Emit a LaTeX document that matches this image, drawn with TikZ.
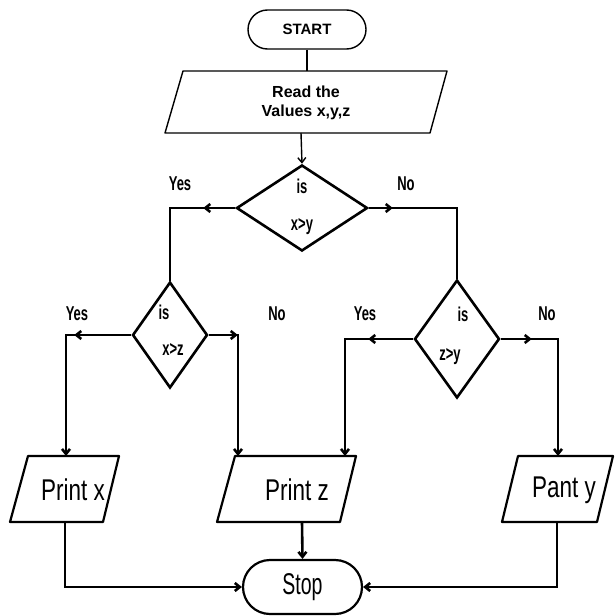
\documentclass[tikz,border=0pt]{standalone}
\usepackage{fontspec}
\setmainfont{Liberation Sans}
\newfontfamily\narrowfont[FakeStretch=0.75]{Liberation Sans}
\newfontfamily\narrowerfont[FakeStretch=0.65]{Liberation Sans}
\usetikzlibrary{shapes.geometric,shapes.misc,arrows.meta,decorations.markings}
\tikzset{
  thinline/.style={line width=1.4pt},
  thickline/.style={line width=2.6pt},
  terminal/.style={draw, rounded rectangle, inner sep=0pt},
  decision/.style={draw, diamond, inner sep=0pt, line width=2.6pt},
  iobox/.style={line width=2.2pt, line join=round},
  lbl/.style={font=\narrowerfont\bfseries\fontsize{20}{22}\selectfont, inner sep=0pt, text height=1.4ex, text depth=0.2ex},
  ptext/.style={font=\narrowfont\fontsize{30}{32}\selectfont, inner sep=0pt},
  tip/.style={-{Straight Barb[length=5pt,width=8pt]}},
  midtip/.style={postaction={decorate}, decoration={markings, mark=at position #1 with {\arrow{Straight Barb[length=5pt,width=8pt]}}}},
}
\begin{document}
\begin{tikzpicture}[x=1pt,y=-1pt]
\useasboundingbox (0,0) rectangle (615,616);
\fill[white] (0,0) rectangle (615,616);

% START
\node[terminal, thinline, minimum width=118, minimum height=39,
      font=\bfseries\fontsize{15}{17}\selectfont] (start) at (307,29.5) {START};

% Read
\coordinate (rdTL) at (183,71); \coordinate (rdTR) at (447,71);
\coordinate (rdBR) at (430,133); \coordinate (rdBL) at (165,133);
\draw[thinline, line join=round] (rdTL) -- (rdTR) -- (rdBR) -- (rdBL) -- cycle;
\node[align=center, font=\bfseries\fontsize{16}{19}\selectfont, inner sep=0pt] (read) at (306,103) {Read the\\Values x,y,z};
\coordinate (readT) at (307,71);
\coordinate (readB) at (301,133);

% Decisions
\node[decision, minimum width=131, minimum height=86] (d1) at (302,208) {};
\node[decision, minimum width=75, minimum height=106] (d2) at (170,335) {};
\node[decision, minimum width=85, minimum height=118] (d3) at (457,339) {};

\node[lbl] (d1a) at (302,190) {is};
\node[lbl] (d1b) at (302,227) {x>y};
\node[lbl] (d2a) at (164,316) {is};
\node[lbl] (d2b) at (173,352) {x>z};
\node[lbl] (d3a) at (463,318) {is};
\node[lbl] (d3b) at (450,357) {z>y};

% Yes / No labels
\node[lbl] (y1) at (180,187) {Yes};
\node[lbl] (n1) at (406,187) {No};
\node[lbl] (y2) at (77,317) {Yes};
\node[lbl] (n2) at (277,317) {No};
\node[lbl] (y3) at (365,317) {Yes};
\node[lbl] (n3) at (547,317) {No};

% Print boxes
\draw[iobox] (28,456) -- (119,456) -- (103,522) -- (10,522) -- cycle;
\node[ptext] (printx) at (73,490) {Print x};
\coordinate (pxT) at (66,456); \coordinate (pxB) at (65,522);

\draw[iobox] (235,456) -- (356,456) -- (340,522) -- (217,522) -- cycle;
\node[ptext] (printz) at (297,490) {Print z};
\coordinate (pzL) at (238,456); \coordinate (pzR) at (345,456);
\coordinate (pzB) at (302,522);

\draw[iobox] (518,456) -- (613,456) -- (597,522) -- (502,522) -- cycle;
\node[ptext] (printy) at (564,490) {Pant y};
\coordinate (pyT) at (558,456); \coordinate (pyB) at (557,522);

% Stop
\node[terminal, line width=2.2pt, minimum width=119, minimum height=54,
      font=\narrowerfont\fontsize{30}{32}\selectfont] (stop) at (302.5,587) {Stop};

% Connectors
\draw[thinline] (start.south) -- (readT);
\draw[thinline, tip] (readB) -- (d1.north);
\draw[thickline, midtip=32pt] (d1.west) -| (d2.north);
\draw[thickline, midtip=24pt] (d1.east) -| (d3.north);
\draw[thickline, tip, midtip=57pt] (d2.west) -| (pxT);
\draw[thickline, tip, midtip=29pt] (d2.east) -| (pzL);
\draw[thickline, tip, midtip=45pt] (d3.west) -| (pzR);
\draw[thickline, tip, midtip=31pt] (d3.east) -| (pyT);
\draw[thickline, tip] (pxB) |- (stop.west);
\draw[thickline, tip] (pzB) -- (stop.north);
\draw[thickline, tip] (pyB) |- (stop.east);
\end{tikzpicture}
\end{document}
